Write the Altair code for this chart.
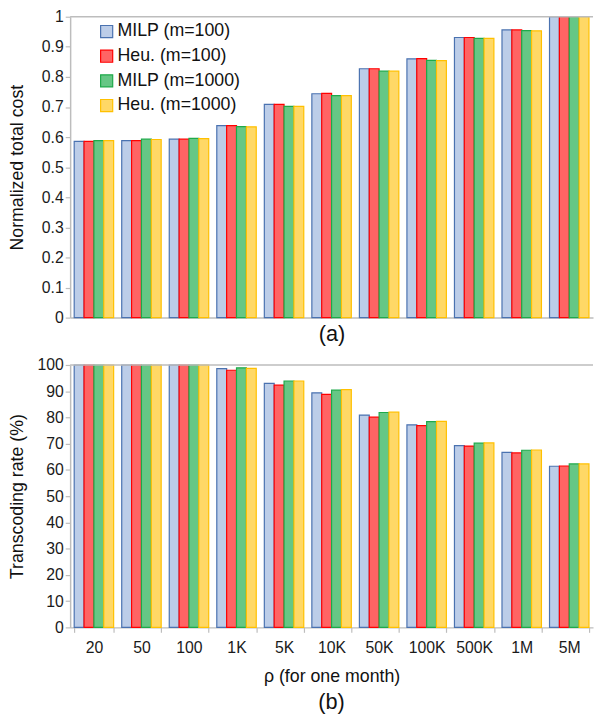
import altair as alt
import pandas as pd

categories = ["20", "50", "100", "1K", "5K", "10K", "50K", "100K", "500K", "1M", "5M"]
series = ["MILP (m=100)", "Heu. (m=100)", "MILP (m=1000)", "Heu. (m=1000)"]

cost_milp100 = [0.586, 0.588, 0.593, 0.638, 0.709, 0.744, 0.827, 0.860, 0.931, 0.956, 1.0]
cost_heu100 = [0.586, 0.588, 0.593, 0.638, 0.709, 0.745, 0.827, 0.861, 0.931, 0.956, 1.0]
cost_milp1000 = [0.588, 0.593, 0.596, 0.635, 0.702, 0.738, 0.819, 0.855, 0.928, 0.954, 1.0]
cost_heu1000 = [0.588, 0.592, 0.595, 0.634, 0.702, 0.738, 0.819, 0.854, 0.928, 0.953, 1.0]

rate_milp100 = [100, 100, 100, 98.6, 93.0, 89.4, 80.9, 77.2, 69.3, 66.7, 61.4]
rate_heu100 = [100, 100, 100, 98.0, 92.3, 88.8, 80.1, 76.9, 69.1, 66.5, 61.5]
rate_milp1000 = [100, 100, 100, 98.9, 93.9, 90.4, 81.9, 78.4, 70.2, 67.5, 62.3]
rate_heu1000 = [100, 100, 100, 98.7, 93.9, 90.6, 82.0, 78.5, 70.3, 67.6, 62.3]

cost_ticks = [0, 0.1, 0.2, 0.3, 0.4, 0.5, 0.6, 0.7, 0.8, 0.9, 1.0]
rate_ticks = [0, 10, 20, 30, 40, 50, 60, 70, 80, 90, 100]

fill_colors = ["#bccde8", "#ff6464", "#66c785", "#ffd866"]
stroke_colors = ["#4a72b0", "#ff0000", "#1ea94a", "#ffc000"]

FONT = "Liberation Sans"
AXIS_GRAY = "#bdbdbd"


def long_df(cols):
    rows = []
    for s, vals in zip(series, cols):
        for c, v in zip(categories, vals):
            rows.append({"rho": c, "series": s, "value": v})
    return pd.DataFrame(rows)


df_cost = long_df([cost_milp100, cost_heu100, cost_milp1000, cost_heu1000])
df_rate = long_df([rate_milp100, rate_heu100, rate_milp1000, rate_heu1000])

xscale = alt.Scale(paddingInner=0.17, paddingOuter=0.085)


def panel(df, ymax, ticks, ytitle, xaxis, legend, fmt, h):
    yaxis = alt.Axis(
        values=ticks,
        format=fmt,
        labelOverlap=False,
        title=ytitle,
        titleX=-44,
        titleY=h / 2,
        titleAngle=270,
        titleAlign="center",
        titleBaseline="bottom",
        titleFontSize=18,
        grid=False,
        tickSize=5,
        labelPadding=2,
    )
    yscale = alt.Scale(domain=[0, ymax], nice=False)
    bars = alt.Chart(df).mark_bar(strokeWidth=1.2).encode(
        x=alt.X("rho:N", sort=categories, scale=xscale, axis=xaxis),
        xOffset=alt.XOffset("series:N", sort=series),
        y=alt.Y("value:Q", scale=yscale, axis=yaxis, title=ytitle),
        fill=alt.Fill(
            "series:N",
            sort=series,
            scale=alt.Scale(domain=series, range=fill_colors),
            legend=legend,
        ),
        stroke=alt.Stroke(
            "series:N",
            sort=series,
            scale=alt.Scale(domain=series, range=stroke_colors),
            legend=legend,
        ),
    )
    top_rule = alt.Chart(pd.DataFrame({"value": [ymax]})).mark_rule(
        color=AXIS_GRAY, strokeWidth=1.5
    ).encode(y=alt.Y("value:Q", scale=yscale, axis=yaxis, title=ytitle))
    return alt.layer(bars, top_rule).properties(width=530, height=h)


legend_top = alt.Legend(
    title=None,
    orient="none",
    legendX=28,
    legendY=6,
    symbolType="square",
    symbolSize=150,
    symbolStrokeWidth=1.2,
    labelFont=FONT,
    labelFontSize=18,
    labelColor="#111111",
    labelOffset=2,
    rowPadding=7,
    padding=0,
)

xaxis_top = alt.Axis(
    labels=False,
    ticks=False,
    title="(a)",
    titleFontSize=22,
    titlePadding=6,
)

xaxis_bottom = alt.Axis(
    labelAngle=0,
    tickBand="extent",
    tickSize=5,
    labelPadding=7,
    title="ρ (for one month)",
    titleFontSize=18,
    titlePadding=13,
)

top = panel(df_cost, 1.0, cost_ticks, "Normalized total cost", xaxis_top, legend_top, "~g", 305)
bottom = panel(df_rate, 100, rate_ticks, "Transcoding rate (%)", xaxis_bottom, None, "d", 266).properties(
    title=alt.TitleParams(
        "(b)", orient="bottom", fontSize=22, fontWeight="normal", font=FONT,
        color="#111111", offset=7, anchor="middle", frame="group"
    )
)

chart = alt.vconcat(top, bottom, spacing=13).resolve_legend(
    fill="independent", stroke="independent"
).properties(
    padding={"left": 0, "top": -4, "right": 0, "bottom": 0}
).configure_view(stroke=None).configure_axis(
    domainColor=AXIS_GRAY,
    domainWidth=1.5,
    tickColor=AXIS_GRAY,
    tickWidth=1.2,
    labelFont=FONT,
    labelFontSize=16,
    labelColor="#1a1a1a",
    titleFont=FONT,
    titleFontWeight="normal",
    titleColor="#111111",
)

chart.save("out.html", embed_options={"renderer": "svg", "actions": False})
